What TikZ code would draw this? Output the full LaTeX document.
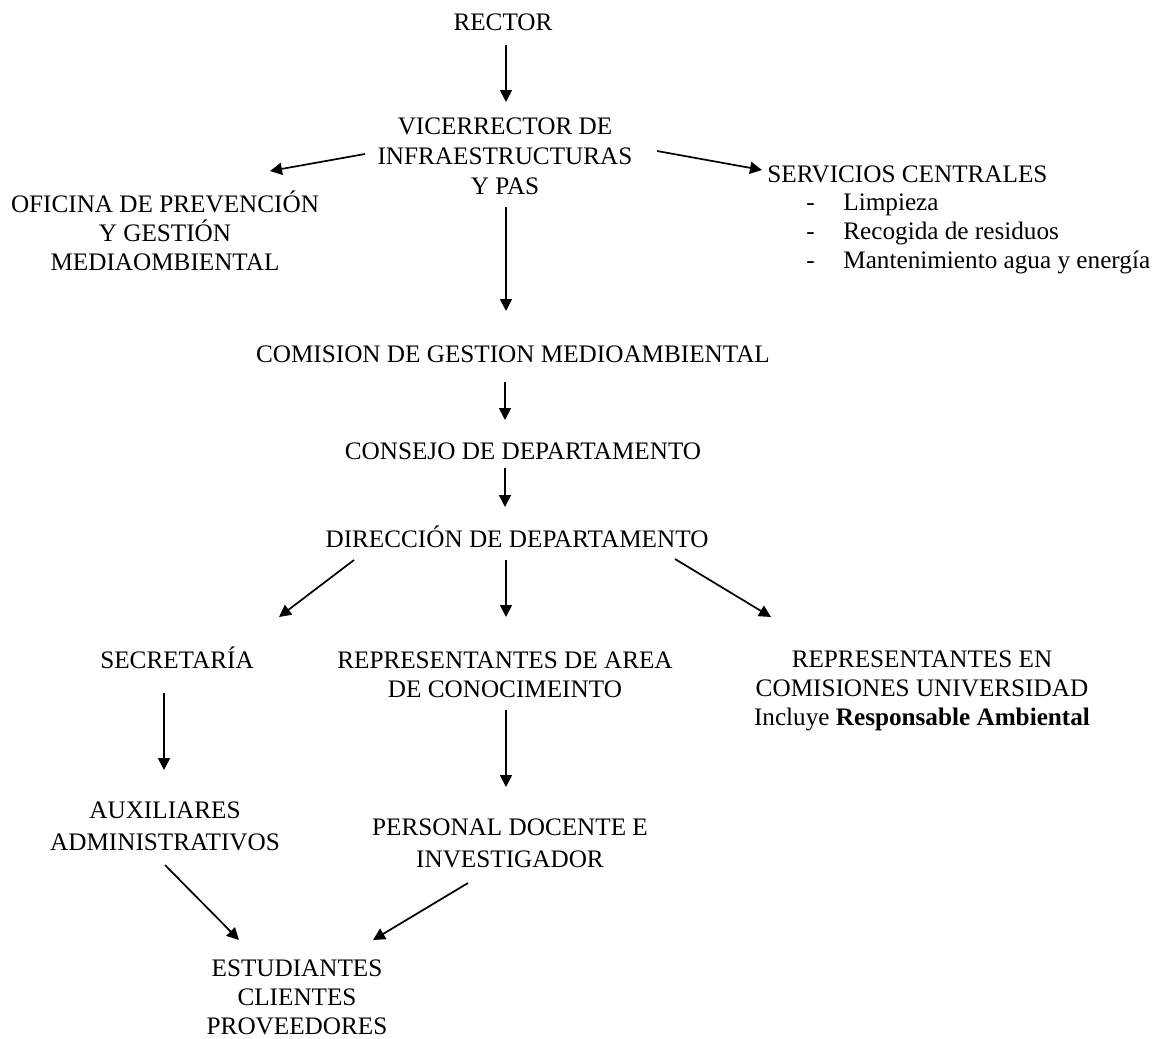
\documentclass[tikz,border=0pt]{standalone}
\usepackage{fontspec}
\setmainfont{Liberation Serif}
\usepackage{tikz}
\usetikzlibrary{arrows.meta}
\newcommand{\guion}[1]{\makebox[38pt][l]{\hspace*{19.5pt}-}#1}

\begin{document}
\begin{tikzpicture}[
    x=0.5pt, y=-0.5pt,
    every node/.style={inner sep=0pt, align=center, anchor=base, font=\fontsize{12.6}{14.3}\selectfont},
    flecha/.style={draw, line width=0.85pt, -{Triangle[length=6pt, width=6pt]}},
    anchos/.style={font=\fontsize{12.6}{16}\selectfont}
]
\useasboundingbox (0,0) rectangle (1158,1039);

% base = ultima linea de cada nodo
\node (rector) at (503,30) {RECTOR};
\node[font=\fontsize{12.6}{15}\selectfont] (vice) at (505,194) {VICERRECTOR DE\\INFRAESTRUCTURAS\\Y PAS};
\node (oficina) at (165,270) {OFICINA DE PREVENCIÓN\\Y GESTIÓN\\MEDIAOMBIENTAL};
\node[anchor=base west, align=left] (servicios) at (767,268) {SERVICIOS CENTRALES\\
    \guion{Limpieza}\\
    \guion{Recogida de residuos}\\
    \guion{Mantenimiento agua y energía}};
\node (comision) at (513,362) {COMISION DE GESTION MEDIOAMBIENTAL};
\node (consejo) at (523,459) {CONSEJO DE DEPARTAMENTO};
\node (direccion) at (517,547) {DIRECCIÓN DE DEPARTAMENTO};
\node (secretaria) at (177,668) {SECRETARÍA};
\node (area) at (505,697) {REPRESENTANTES DE AREA\\DE CONOCIMEINTO};
\node (univ) at (922,725) {REPRESENTANTES EN\\COMISIONES UNIVERSIDAD\\Incluye \textbf{Responsable Ambiental}};
\node[anchos] (aux) at (165,850) {AUXILIARES\\ADMINISTRATIVOS};
\node[anchos] (personal) at (510,867) {PERSONAL DOCENTE E\\INVESTIGADOR};
\node (estudiantes) at (297,1034) {ESTUDIANTES\\CLIENTES\\PROVEEDORES};

% flechas
\draw[flecha] ([shift={(3,15)}]rector.base) -- ([shift={(1,-92)}]vice.base);
\draw[flecha] ([shift={(-140,-40)}]vice.base) -- ([shift={(105,-99)}]oficina.base);
\draw[flecha] ([shift={(152,-43)}]vice.base) -- ([shift={(-5,-98)}]servicios.base west);
\draw[flecha] ([shift={(1,13)}]vice.base) -- ([shift={(-7,-51)}]comision.base);
\draw[flecha] ([shift={(-8,20)}]comision.base) -- ([shift={(-18,-39)}]consejo.base);
\draw[flecha] ([shift={(-18,9)}]consejo.base) -- ([shift={(-12,-40)}]direccion.base);
\draw[flecha] ([shift={(-163,13)}]direccion.base) -- ([shift={(102,-51)}]secretaria.base);
\draw[flecha] ([shift={(-11,13)}]direccion.base) -- ([shift={(1,-80)}]area.base);
\draw[flecha] ([shift={(158,12)}]direccion.base) -- ([shift={(-151,-108)}]univ.base);
\draw[flecha] ([shift={(-13,25)}]secretaria.base) -- ([shift={(-1,-80)}]aux.base);
\draw[flecha] ([shift={(1,13)}]area.base) -- ([shift={(-4,-80)}]personal.base);
\draw[flecha] ([shift={(0,15)}]aux.base) -- ([shift={(-58,-94)}]estudiantes.base);
\draw[flecha] ([shift={(-42,16)}]personal.base) -- ([shift={(76,-94)}]estudiantes.base);
\end{tikzpicture}
\end{document}
